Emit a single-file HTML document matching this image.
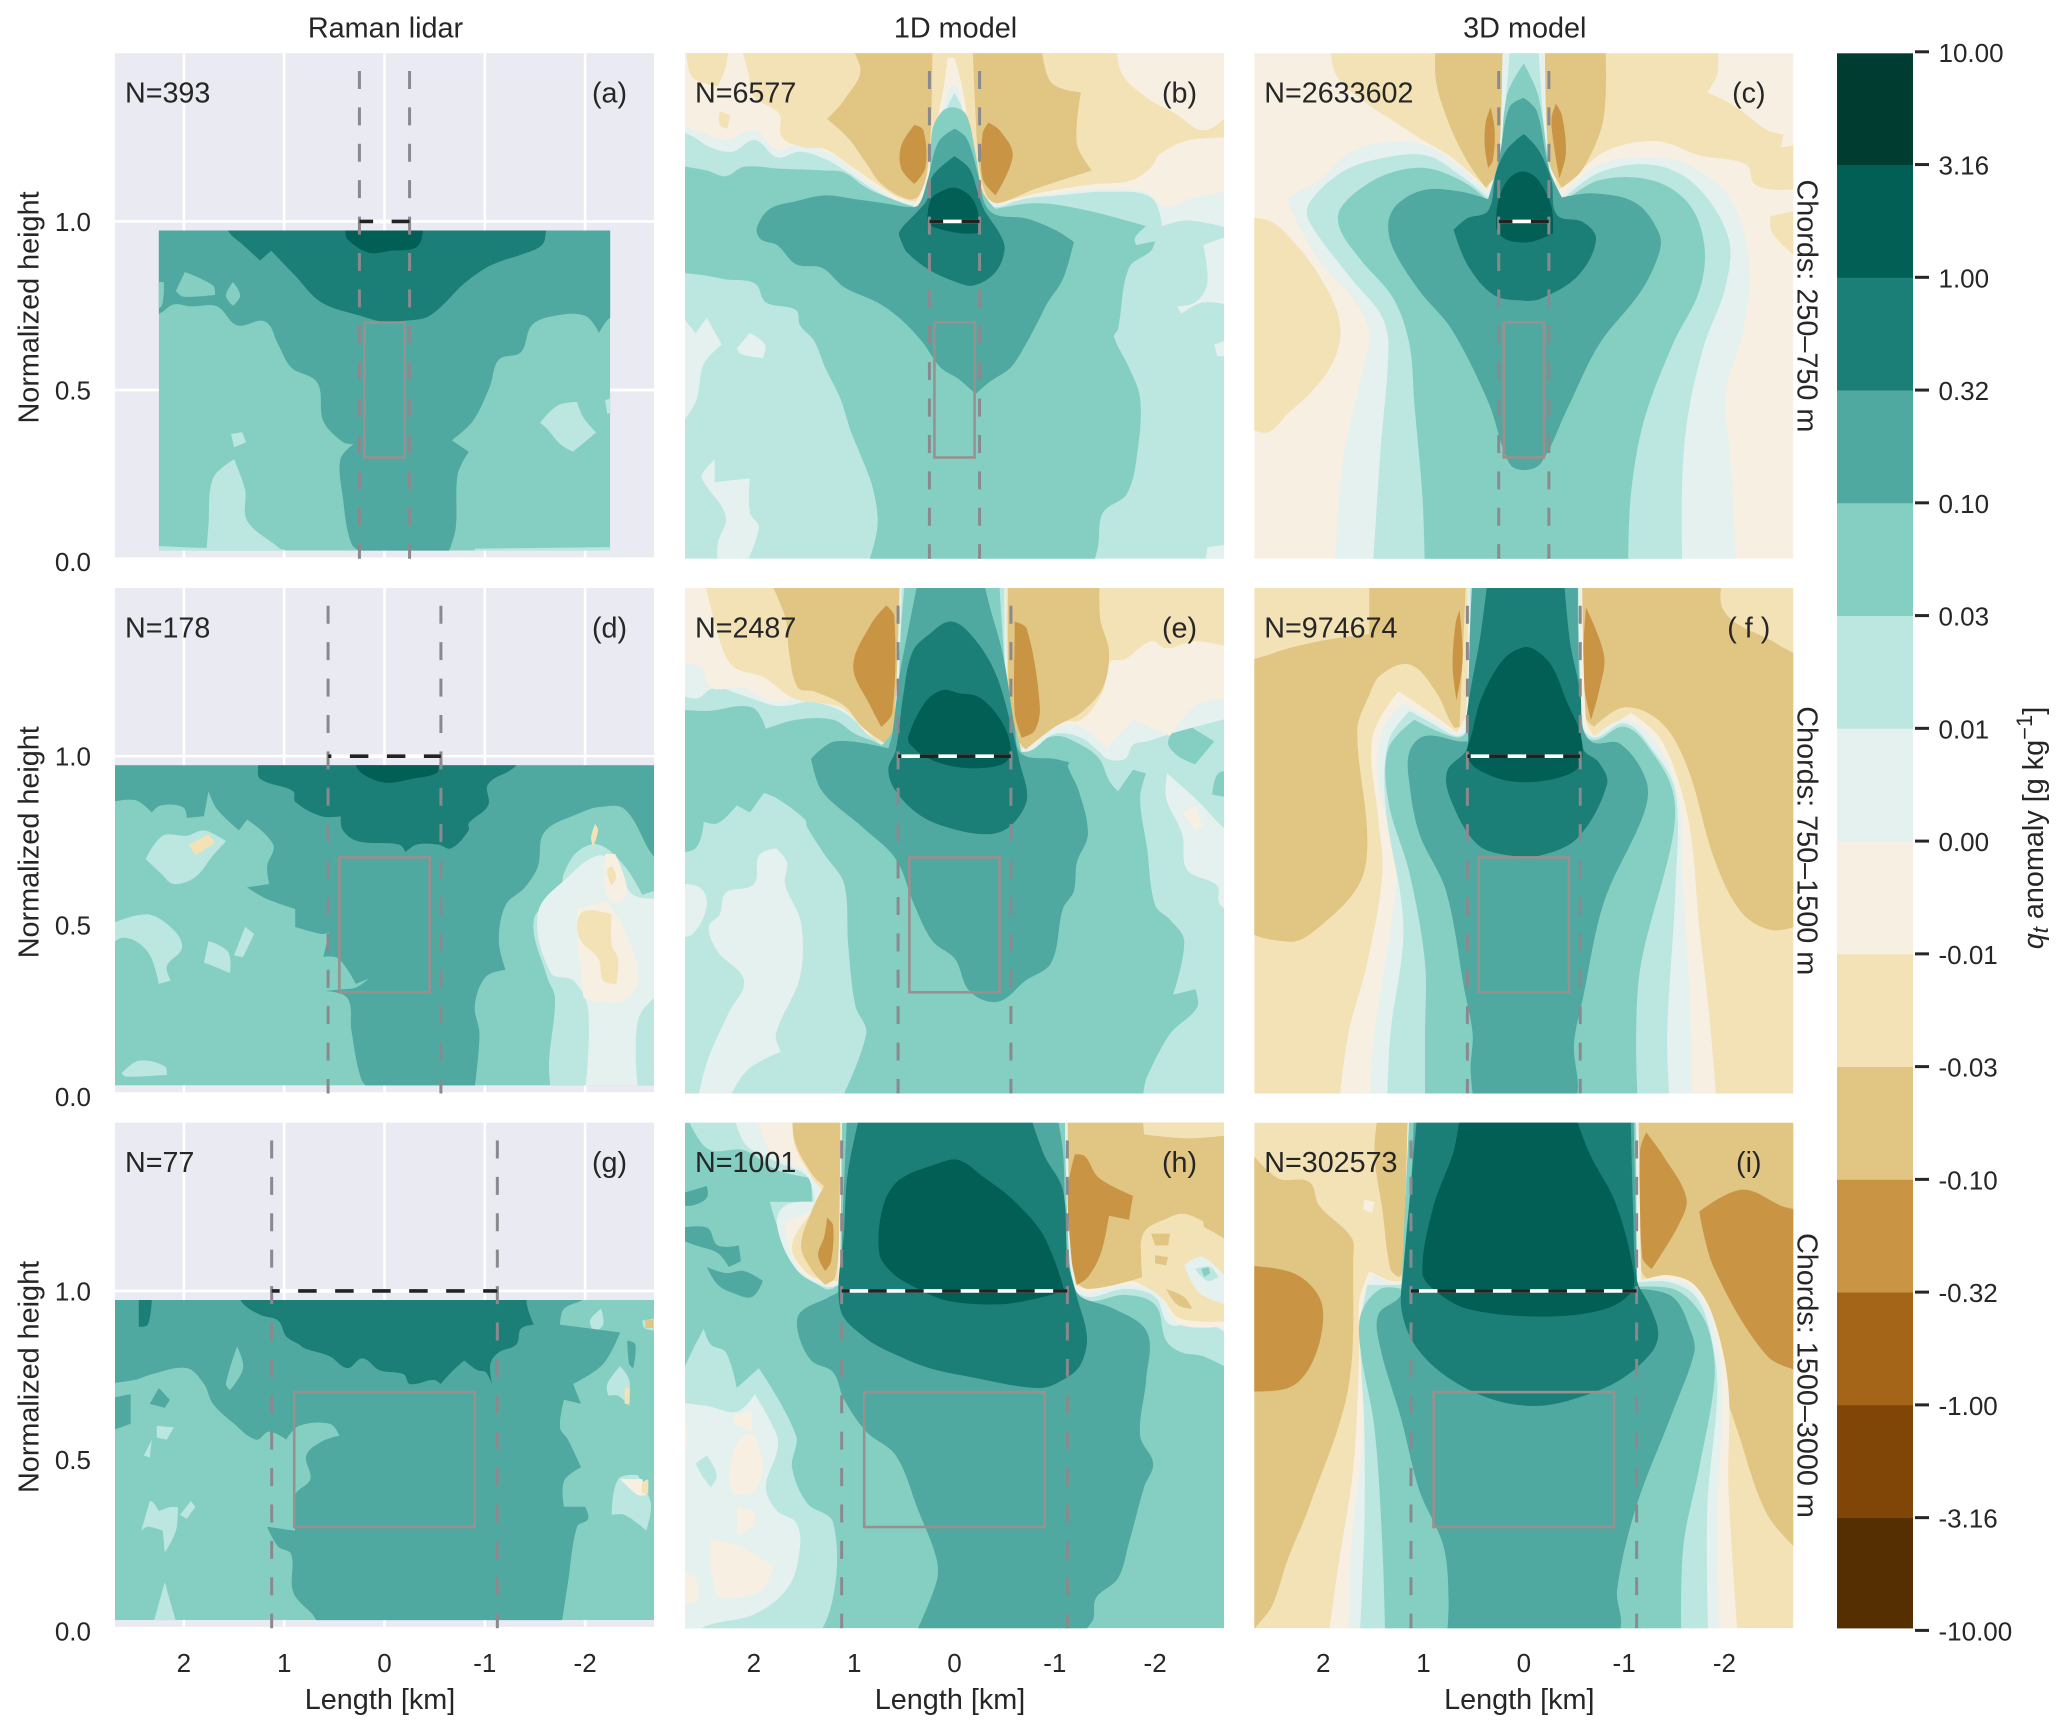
<!DOCTYPE html>
<html lang="en">
<head>
<meta charset="utf-8">
<title>Total water anomaly composites</title>
<style>
html,body{margin:0;padding:0;background:#fff;}
svg{display:block;}
text{font-family:"Liberation Sans",Arial,sans-serif;fill:#262626;}
</style>
</head>
<body>
<svg id="figure" xmlns="http://www.w3.org/2000/svg" width="2067" height="1732" viewBox="0 0 2067 1732"></svg>
<script>
// ---- colour scale (index 0 = darkest brown, 13 = darkest teal) ----
const levelColors = ['#552e02','#7f4607','#a46518','#c99444','#e0c583','#f2e2b5','#f6efe2','#e5f1ee','#bce6e0','#85cfc2','#4fa9a0','#1b7f77','#015f55','#003c30'];
const colorbarTicks = ['-10.00','-3.16','-1.00','-0.32','-0.10','-0.03','-0.01','0.00','0.01','0.03','0.10','0.32','1.00','3.16','10.00'];

// ---- axes ----
const xTickValues = [2,1,0,-1,-2];
const yTickValues = [0,0.5,1];
const columnTitles = ['Raman lidar','1D model','3D model'];
const rowTitles = ['Chords: 250–750 m','Chords: 750–1500 m','Chords: 1500–3000 m'];
const panelLetters = ['(a)','(b)','(c)','(d)','(e)','( f )','(g)','(h)','(i)'];
const sampleCounts = [393,6577,2633602,178,2487,974674,77,1001,302573];
const baseLevels = [9,8,6,9,8,5,9,9,5];

// ---- mean chord half-length [km], and box half-width [km], per row ----
const chordHalfLengths = [0.25,0.5625,1.125];
const boxHalfWidths = [0.2,0.45,0.9];
const boxHeights = [0.3,0.7];
const cloudBase = 1.0;
const chordLineTop = 1.446;

// ---- filled contour regions: [level, [km,height, km,height, ...]] ----
const regionsA = [
[8,[1.78,0,1.755,.1,1.71,.238,1.5,.295,1.39,.204,1.37,.113,1.06,.034,.93,0]],
[8,[2.4,.04,1.8,.032,1,.028,1,0,2.4,0]],
[8,[-.9,.03,-2.4,.035,-2.4,0,-.9,0]],
[8,[-1.55,.403,-1.725,.454,-1.92,.465,-1.98,.42,-2.11,.374,-1.88,.317,-1.75,.34,-1.62,.385]],
[8,[1.53,.37,1.42,.375,1.38,.345,1.5,.33]],
[8,[-2.2,.47,-2.4,.49,-2.4,.44,-2.22,.43]],
[10,[2.4,.726,2.25,.726,2.10,.754,1.93,.748,1.67,.748,1.47,.692,1.19,.703,1.06,.635,.93,.567,.67,.522,.61,.408,.415,.346,.31,.34,.44,.295,.415,.181,.33,.045,.2,.02,-.64,.02,-.71,.09,-.73,.25,-.84,.317,-.67,.351,-.88,.408,-1.05,.51,-1.14,.59,-1.36,.612,-1.47,.692,-1.7,.72,-2,.72,-2.14,.669,-2.25,.714,-2.4,.714,-2.4,1.02,2.4,1.02]],
[9,[1.99,.85,1.71,.81,1.69,.782,2.01,.777,2.08,.794]],
[9,[1.51,.82,1.44,.78,1.51,.75,1.58,.78]],
[9,[2.3,.82,2.2,.82,2.22,.75,2.3,.74]],
[11,[1.56,1.02,1.56,.973,1.41,.93,1.24,.884,1.13,.913,.89,.839,.63,.76,.24,.72,.026,.703,-.19,.705,-.45,.72,-.795,.816,-1.01,.862,-1.18,.884,-1.36,.901,-1.57,.93,-1.61,.973,-1.61,1.02]],
[12,[.39,1.02,.39,.973,.37,.947,.155,.907,-.06,.913,-.32,.924,-.385,.973,-.385,1.02]]
];
const regionsB = [
[9,[2.8,1.168,2.47,1.151,2.28,1.134,2.1,1.162,1.73,1.156,1.29,1.151,1.1,1.145,.88,1.1,.62,1.066,.4,1.043,0,1,-.41,1.037,-.85,1.054,-1.33,1.032,-1.91,.986,-1.8,.952,-1.81,.93,-2,.941,-1.96,.913,-1.74,.862,-1.63,.68,-1.59,.658,-1.74,.567,-1.85,.476,-1.83,.329,-1.72,.193,-1.48,.136,-1.43,.034,-1.35,-.05,.9,-.05,.77,.091,.81,.204,.95,.317,1.03,.374,1.14,.476,1.29,.567,1.4,.646,1.54,.692,1.58,.737,1.88,.76,1.99,.816,2.28,.828,2.47,.839,2.8,.85]],
[7,[2.8,.748,2.58,.669,2.47,.714,2.32,.635,2.5,.578,2.58,.465,2.8,.37]],
[7,[2.17,.624,2.04,.669,1.89,.635,1.91,.595,2.13,.607]],
[7,[2.52,.249,2.39,.295,2.39,.227,2.04,.238,2.04,.136,1.95,.091,2.17,-.05,2.36,-.05,2.36,.045,2.28,.125,2.5,.227]],
[7,[-2.8,.964,-2.48,.93,-2.52,.816,-2.4,.76,-2.22,.748,-2.26,.726,-2.48,.76,-2.8,.748]],
[7,[-2.59,.635,-2.8,.658,-2.8,.6,-2.62,.6]],
[7,[-2.8,.045,-2.52,.034,-2.48,-.05,-2.8,-.05]],
[7,[2.8,1.293,2.58,1.247,2.43,1.219,2.21,1.207,1.99,1.241,1.77,1.19,1.54,1.207,1.29,1.185,1.06,1.145,.77,1.088,.51,1.054,.4,1.049,0,1.09,-.39,1.043,-.67,1.066,-1.04,1.077,-1.52,1.088,-1.96,1.071,-2.07,.986,-2.33,1.003,-2.8,.975,-2.8,1.6,2.8,1.6]],
[6,[2.8,1.315,2.47,1.258,2.28,1.241,1.99,1.27,1.77,1.213,1.54,1.23,1.29,1.207,1.06,1.162,.77,1.1,.51,1.06,0,1.1,-.41,1.054,-.85,1.077,-1.37,1.094,-1.89,1.088,-2.11,1.043,-2.33,1.066,-2.8,1.122,-2.8,1.6,2.8,1.6]],
[5,[2.21,1.6,2.06,1.446,2,1.37,1.75,1.32,1.72,1.25,1.5,1.22,1.29,1.215,1.06,1.17,.77,1.11,.55,1.07,.35,1.06,0,1.1,-.4,1.06,-.85,1.085,-1.37,1.11,-1.75,1.12,-1.96,1.16,-2.05,1.2,-2.33,1.24,-2.8,1.25,-2.8,1.34,-2.5,1.27,-2.2,1.32,-1.9,1.37,-1.65,1.45,-1.63,1.6]],
[5,[2.7,1.6,2.65,1.45,2.58,1.42,2.36,1.4,2.28,1.46,2.21,1.6]],
[5,[2.34,1.327,2.24,1.315,2.26,1.275,2.34,1.286]],
[4,[1.25,1.6,.94,1.457,1.1,1.36,1.27,1.304,1.06,1.247,.88,1.173,.73,1.111,.47,1.066,.35,1.077,.27,1.156,.23,1.315,.22,1.6]],
[4,[-.17,1.6,-.21,1.315,-.245,1.168,-.32,1.077,-.43,1.054,-.78,1.094,-1.37,1.151,-1.22,1.23,-1.26,1.383,-.95,1.417,-.85,1.6]],
[3,[.4,1.286,.31,1.27,.29,1.16,.4,1.111,.53,1.156,.53,1.225]],
[3,[-.34,1.293,-.45,1.27,-.58,1.196,-.41,1.077,-.28,1.128,-.28,1.26]],
[6,[.07,1.485,0,1.485,-.08,1.395,-.15,1.258,-.21,1.122,-.37,1.043,0,1,.42,1.04,.29,1.12,.2,1.26,.11,1.395]],
[7,[.03,1.4,-.03,1.4,-.11,1.3,-.19,1.17,-.25,1.08,-.37,1.03,0,1,.39,1.03,.27,1.1,.18,1.26,.08,1.37]],
[8,[0,1.38,-.07,1.34,-.15,1.22,-.22,1.1,-.34,1.02,0,1,.34,1.02,.25,1.1,.16,1.24,.07,1.34]],
[9,[.28,1.06,.22,1.27,.12,1.327,0,1.338,-.12,1.315,-.21,1.2,-.28,1.088,-.41,1.037,0,.9,.42,1.04]],
[10,[1.97,.981,1.84,1.037,1.58,1.06,1.29,1.077,.99,1.066,.7,1.054,.47,1.043,.36,1.049,.27,1.122,.16,1.236,0,1.275,-.12,1.247,-.23,1.145,-.3,1.054,-.41,1.02,-.71,1.009,-1,.975,-1.19,.939,-1.08,.828,-.93,.76,-.85,.714,-.71,.635,-.56,.567,-.34,.522,-.21,.488,-.04,.533,.14,.567,.33,.646,.55,.714,.77,.76,1.1,.805,1.32,.862,1.58,.873,1.77,.93,1.93,.947]],
[11,[.55,.969,.4,1.02,.27,1.066,.22,1.134,0,1.193,-.15,1.156,-.23,1.088,-.3,1.032,-.45,.964,-.5,.918,-.41,.85,-.19,.81,0,.822,.25,.856,.47,.907,.53,.941]],
[12,[.27,1.009,.235,1.066,.14,1.088,0,1.1,-.15,1.077,-.23,1.032,-.245,.966,-.08,.964,.18,.98,.25,.992]]
];
const regionsC = [
[5,[1.93,1.6,1.88,1.44,1.56,1.349,1.3,1.298,1.04,1.247,.72,1.19,.355,1.094,.25,1.6]],
[5,[-.83,1.6,-1.93,1.6,-1.93,1.44,-1.83,1.383,-2.09,1.344,-2.43,1.27,-2.59,1.258,-2.56,1.219,-2.8,1.23,-2.8,1.1,-2.51,1.094,-2.3,1.111,-2.22,1.168,-1.75,1.196,-1.33,1.238,-.85,1.213,-.54,1.145,-.33,1.088,-.22,1.6]],
[5,[2.8,1.015,2.51,.998,2.3,.941,2.09,.862,1.88,.748,1.83,.658,1.93,.567,2.14,.488,2.35,.431,2.56,.374,2.8,.397]],
[5,[-2.46,1.015,-2.8,1.037,-2.8,.873,-2.48,.964]],
[4,[.855,1.6,.88,1.429,.75,1.293,.565,1.179,.38,1.1,.25,1.156,.21,1.6]],
[4,[-.21,1.6,-.25,1.179,-.38,1.1,-.59,1.156,-.8,1.315,-.8,1.6]],
[3,[.33,1.338,.29,1.27,.31,1.179,.355,1.159,.39,1.225,.38,1.293]],
[3,[-.32,1.349,-.38,1.315,-.42,1.202,-.355,1.128,-.3,1.225,-.276,1.304]],
[7,[2.33,1.071,2.04,1.122,1.72,1.207,1.25,1.238,.93,1.219,.62,1.156,.355,1.088,.25,1.179,.21,1.6,-.2,1.6,-.25,1.179,-.38,1.077,-.75,1.168,-1.275,1.19,-1.64,1.168,-2.06,1.066,-2.25,.862,-2.17,.658,-2.01,.488,-2.06,.295,-2.12,-.05,1.89,-.05,1.8,.295,1.59,.578,1.54,.669,1.7,.771,2.04,.884,2.33,1.043]],
[8,[2.14,1.054,1.82,1.145,1.45,1.185,.98,1.196,.62,1.134,.355,1.071,.25,1.145,.12,1.6,-.13,1.6,-.25,1.145,-.38,1.063,-.75,1.145,-1.275,1.168,-1.7,1.111,-2.04,.952,-2.01,.805,-1.8,.635,-1.64,.431,-1.58,.238,-1.58,-.05,1.51,-.05,1.43,.317,1.35,.635,1.43,.726,1.72,.83,2.14,1]],
[9,[1.83,1.037,1.56,1.111,1.25,1.151,.93,1.156,.565,1.111,.355,1.06,.25,1.122,.17,1.372,0,1.468,-.145,1.372,-.276,1.122,-.38,1.054,-.75,1.122,-1.275,1.122,-1.64,1.054,-1.8,.93,-1.75,.794,-1.485,.635,-1.196,.408,-1.065,.181,-1.04,-.05,.985,-.05,1.01,.181,1.09,.453,1.14,.635,1.3,.771,1.62,.884,1.83,.975]],
[10,[1.35,.998,1.25,1.054,.985,1.094,.62,1.088,.355,1.066,.25,1.179,.145,1.338,0,1.366,-.13,1.327,-.25,1.156,-.38,1.071,-.7,1.083,-1.12,1.054,-1.35,.964,-1.35,.907,-1.17,.794,-.75,.635,-.43,.442,-.17,.283,0,.263,.145,.283,.355,.465,.72,.68,1.04,.794,1.3,.918]],
[11,[.7,.975,.565,1.009,.355,1.032,.276,1.145,.17,1.213,0,1.259,-.145,1.213,-.276,1.122,-.33,1.02,-.59,.998,-.72,.947,-.54,.839,-.17,.771,0,.765,.3,.782,.565,.873]],
[12,[.276,.986,.25,1.066,.145,1.128,0,1.148,-.145,1.122,-.276,1.043,-.29,.964,-.066,.939,.145,.943,.25,.964]]
];
const regionsD = [
[8,[2.38,.695,2.21,.764,1.97,.764,1.8,.78,1.58,.748,1.71,.706,1.885,.642,2.1,.621,2.23,.653]],
[5,[1.95,.738,1.755,.769,1.69,.743,1.885,.706]],
[8,[2.8,.494,2.37,.531,2.1,.484,2.02,.431,2.17,.378,2.13,.335,2.25,.325,2.36,.42,2.6,.462,2.8,.42]],
[8,[1.8,.388,1.755,.452,1.56,.42,1.54,.357,1.71,.378]],
[8,[1.5,.41,1.39,.494,1.3,.473,1.41,.404]],
[8,[2.62,.06,2.45,.097,2.19,.081,2.17,.055,2.58,.05]],
[8,[-1.66,0,-1.64,.092,-1.7,.283,-1.62,.346,-1.49,.515,-1.75,.6,-1.79,.653,-1.92,.716,-2.135,.738,-2.395,.674,-2.57,.589,-2.8,.611,-2.8,0]],
[7,[-2,0,-2.03,.251,-1.88,.335,-1.66,.357,-1.53,.536,-1.83,.642,-2.135,.706,-2.31,.674,-2.48,.589,-2.8,.579,-2.8,.335,-2.53,.22,-2.53,0]],
[6,[-1.985,.283,-1.92,.473,-1.92,.547,-2.22,.568,-2.395,.484,-2.53,.335,-2.35,.272]],
[5,[-1.92,.505,-2,.542,-2.265,.531,-2.265,.441,-2.33,.399,-2.31,.325,-2.18,.335,-2.135,.399,-1.96,.452]],
[6,[-2.2,.71,-2.3,.71,-2.42,.6,-2.3,.56,-2.2,.6]],
[5,[-2.22,.663,-2.27,.674,-2.31,.642,-2.26,.616]],
[5,[-2.1,.8,-2.06,.76,-2.08,.73,-2.13,.78]],
[10,[2.8,.859,2.49,.87,2.32,.833,2.23,.854,2.01,.849,1.97,.817,1.8,.822,1.755,.896,1.67,.843,1.45,.78,1.37,.812,1.11,.738,1.17,.674,1.15,.621,1.37,.611,1.19,.579,.89,.547,.89,.494,.63,.473,.55,.478,.61,.405,.46,.4,.285,.325,.156,.341,.285,.314,.415,.309,.59,.304,.37,.283,.33,.187,.24,.05,.156,.02,-.9,.02,-.947,.177,-.9,.261,-1.01,.346,-1.206,.367,-1.14,.452,-1.206,.558,-1.4,.611,-1.53,.674,-1.595,.775,-1.96,.833,-2.135,.849,-2.395,.843,-2.69,.7,-2.8,.7,-2.8,1.02,2.8,1.02]],
[11,[1.26,1.02,1.26,.973,1.24,.933,.91,.896,.89,.865,.63,.822,.437,.822,.415,.78,.264,.748,-.147,.738,-.21,.716,-.32,.738,-.536,.738,-.666,.727,-.839,.78,-.839,.801,-1.033,.854,-1.033,.917,-1.314,.973,-1.314,1.02]],
[12,[.285,1.02,.285,.973,.2,.944,-.017,.921,-.277,.933,-.514,.949,-.545,.973,-.545,1.02]]
];
const regionsE = [
[9,[2.8,1.14,2.47,1.134,2.02,1.145,1.88,1.081,1.58,1.108,1.21,1.108,.99,1.066,.77,1.039,0,.9,-.67,1.013,-1,1.06,-1.26,1.034,-1.445,.992,-1.54,.928,-1.63,.896,-1.78,.96,-1.91,.949,-1.85,.875,-1.92,.727,-2,.558,-2.15,.515,-2.29,.452,-2.18,.293,-2.4,.309,-2.42,.256,-2.15,.177,-1.92,.05,-1.78,-.05,1.18,-.05,.88,.177,.99,.261,1.06,.441,1.1,.621,1.29,.706,1.47,.79,1.49,.812,1.77,.875,1.9,.891,2.04,.833,2.17,.854,2.36,.801,2.5,.806,2.58,.727,2.8,.716]],
[9,[-2.13,1.044,-2.27,1.103,-2.59,1.044,-2.4,.976,-2.22,1.002]],
[9,[-2.57,.886,-2.63,.949,-2.8,.955,-2.8,.875]],
[7,[-2.12,.949,-2.4,.875,-2.6,.812,-2.8,.738,-2.8,.531,-2.64,.563,-2.62,.616,-2.32,.663,-2.27,.769,-2.11,.875]],
[6,[-2.27,.833,-2.4,.854,-2.48,.79,-2.4,.78]],
[7,[2.45,.494,2.34,.531,2.28,.595,2,.621,1.95,.706,1.78,.727,1.67,.685,1.69,.621,1.53,.505,1.54,.346,1.78,.177,1.73,.124,2.06,.071,2.36,-.05,2.58,-.05,2.47,.092,2.25,.24,2.1,.335,2.36,.42]],
[7,[2.8,.621,2.54,.611,2.47,.558,2.61,.473,2.8,.462]],
[7,[2.8,1.193,2.58,1.171,2.39,1.203,2.13,1.182,1.8,1.15,1.66,1.15,1.43,1.161,1.1,1.129,.77,1.044,.7,1.034,0,1.05,-.71,1.013,-1,1.066,-1.26,1.055,-1.445,1.013,-1.52,.992,-1.7,.992,-1.78,1.034,-1.92,1.044,-2.15,1.066,-2.4,1.087,-2.8,1.118,-2.8,1.6,2.8,1.6]],
[6,[2.8,1.277,2.54,1.267,2.43,1.203,2.1,1.203,1.8,1.16,1.43,1.177,1.1,1.14,.77,1.05,0,1.07,-.71,1.023,-1,1.087,-1.26,1.087,-1.52,1.023,-1.78,1.108,-2.15,1.06,-2.4,1.15,-2.8,1.2,-2.8,1.6,2.8,1.6]],
[5,[2.55,1.6,2.36,1.362,2.21,1.267,1.91,1.235,1.6,1.171,1.14,1.145,.92,1.087,.7,1.039,0,1.07,-.67,1.023,-1,1.103,-1.26,1.108,-1.48,1.193,-1.54,1.277,-1.7,1.288,-1.96,1.341,-2.11,1.32,-2.4,1.341,-2.8,1.32,-2.8,1.6]],
[4,[1.97,1.6,1.69,1.415,1.65,1.309,1.56,1.203,1.4,1.192,1.1,1.15,.92,1.087,.7,1.039,.6,1.087,.54,1.446,.54,1.6]],
[4,[-.54,1.6,-.56,1.087,-.71,1.02,-1,1.087,-1.26,1.129,-1.48,1.204,-1.54,1.31,-1.45,1.414,-1.46,1.6]],
[3,[.68,1.447,.6,1.415,.62,1.129,.73,1.087,.84,1.15,1.01,1.267,.83,1.393]],
[3,[-.6,1.399,-.72,1.378,-.85,1.15,-.8,1.076,-.67,1.055,-.6,1.129,-.6,1.373]],
[7,[.54,1.6,-.52,1.6,-.54,1.129,-.65,1.013,0,.9,.66,1.04,.6,1.087]],
[8,[.52,1.6,-.5,1.6,-.52,1.1,-.62,1,0,.9,.62,1.02,.57,1.08]],
[9,[.6,1.087,.53,1.394,.47,1.6,-.43,1.6,-.54,1.129,-.6,1.087,-.67,1.01,0,.9,.77,1.02]],
[10,[.31,1.6,.47,1.362,.55,1.235,.62,1.066,.66,1.023,1.19,1.044,1.43,.992,1.32,.896,.92,.79,.585,.695,.4,.558,.22,.452,-.005,.399,-.15,.304,-.43,.272,-.71,.335,-.965,.388,-1.08,.547,-1.19,.6,-1.22,.685,-1.33,.769,-1.24,.896,-1.13,.97,-1.15,.981,-1,.992,-.67,1.007,-.6,1.087,-.485,1.298,-.34,1.457,-.23,1.6]],
[11,[.03,1.399,.25,1.362,.42,1.309,.51,1.182,.585,1.018,.66,.96,.585,.896,.33,.822,-.04,.78,-.34,.769,-.52,.785,-.67,.833,-.725,.886,-.65,.981,-.56,1.097,-.41,1.245,-.19,1.351]],
[12,[.12,1.196,.29,1.161,.46,1.06,.44,1.034,.25,.992,-.04,.967,-.37,.968,-.54,.992,-.54,1.055,-.41,1.129,-.23,1.177,-.04,1.187]]
];
const regionsF = [
[4,[2.8,1.256,2.51,1.304,2.04,1.341,1.54,1.362,1.54,1.6,.565,1.6,.64,1.087,.7,1.087,.88,1.193,1.14,1.272,1.43,1.24,1.54,1.182,1.66,1.076,1.56,.759,1.64,.621,2.04,.494,2.33,.45,2.8,.51]],
[4,[-.58,1.6,-2.06,1.6,-1.985,1.436,-2.54,1.33,-2.8,1.267,-2.8,.505,-2.48,.484,-2.17,.537,-1.9,.695,-1.64,.96,-1.38,1.097,-1.01,1.145,-.7,1.087,-.59,1.129]],
[3,[.64,1.433,.61,1.288,.67,1.166,.71,1.267,.68,1.394]],
[3,[-.62,1.441,-.8,1.298,-.75,1.193,-.67,1.108,-.59,1.235]],
[6,[1.85,-.05,1.75,.177,1.56,.388,1.41,.653,1.45,.812,1.51,1.055,1.25,1.193,.93,1.129,.67,1.071,.575,1.129,.565,1.6,-.58,1.6,-.62,1.108,-.7,1.06,-1.07,1.129,-1.38,1.044,-1.64,.812,-1.75,.494,-1.85,.23,-1.93,-.05]],
[7,[1.54,-.05,1.49,.177,1.3,.547,1.27,.706,1.45,.917,1.41,1.076,1.2,1.156,.91,1.108,.66,1.066,.565,1.097,.555,1.6,-.565,1.6,-.59,1.097,-.7,1.056,-1.01,1.108,-1.33,1.034,-1.54,.875,-1.59,.6,-1.67,.177,-1.67,-.05]],
[8,[1.365,-.05,1.33,.177,1.2,.494,1.38,.854,1.35,1.044,1.14,1.134,.91,1.097,.66,1.06,.555,1.087,.545,1.6,-.54,1.6,-.59,1.087,-.71,1.055,-1.01,1.097,-1.275,1.023,-1.51,.896,-1.51,.6,-1.43,.177,-1.46,-.05]],
[9,[.985,-.05,.985,.177,.985,.388,1.14,.653,1.35,.865,1.35,1.023,1.09,1.108,.66,1.055,.555,1.087,.51,1.6,-.54,1.6,-.59,1.076,-.71,1.047,-1.01,1.087,-1.275,1.013,-1.485,.896,-1.485,.759,-1.17,.388,-1.12,.177,-1.14,-.05]],
[10,[.49,-.05,.53,.07,.51,.177,.59,.304,.775,.6,1.04,.769,1.14,.917,1.14,1.013,.985,1.06,.64,1.044,.555,1.044,.54,1.341,.5,1.6,-.54,1.6,-.565,1.129,-.67,1.044,-.96,1.037,-1.22,.928,-1.2,.833,-.8,.568,-.59,.283,-.5,.145,-.54,.018,-.49,-.05]],
[11,[.33,1.6,.43,1.362,.565,1.129,.565,1.023,.765,.955,.72,.865,.46,.738,.145,.706,-.17,.706,-.54,.759,-.83,.917,-.75,.981,-.59,1.023,-.565,1.182,-.46,1.341,-.38,1.6]],
[12,[0,1.323,.2,1.288,.41,1.182,.51,1.076,.555,.992,.3,.939,-.01,.923,-.38,.939,-.565,.976,-.565,1.066,-.43,1.161,-.28,1.267,-.12,1.314]]
];
const regionsG = [
[8,[2.425,.289,2.34,.377,2.3,.371,2.25,.347,2.14,.359,2.06,.359,2.08,.289,2.19,.224,2.21,.289,2.36,.301]],
[8,[2.04,.336,1.93,.377,1.885,.36,1.97,.324]],
[8,[2.4,.512,2.32,.559,2.34,.506]],
[8,[2.27,.6,2.1,.595,2.17,.559,2.27,.565]],
[8,[2.3,.02,2.19,.136,2.08,.02]],
[8,[-2.265,.336,-2.33,.442,-2.525,.454,-2.655,.371,-2.61,.289,-2.395,.336]],
[6,[-2.35,.442,-2.57,.442,-2.61,.395,-2.525,.395]],
[5,[-2.57,.43,-2.63,.442,-2.63,.4,-2.57,.4]],
[8,[-2.22,.724,-2.35,.777,-2.44,.736,-2.44,.659,-2.33,.689,-2.23,.689]],
[5,[-2.395,.712,-2.44,.712,-2.44,.665,-2.395,.665]],
[8,[-2.05,.912,-2.16,.947,-2.18,.9,-2.09,.877]],
[8,[-2.57,.912,-2.8,.924,-2.8,.882,-2.6,.888]],
[4,[-2.6,.915,-2.68,.915,-2.68,.89,-2.6,.89]],
[10,[2.8,.724,2.49,.736,2.32,.753,1.97,.771,1.8,.724,1.71,.665,1.5,.606,1.28,.559,1.15,.583,.98,.559,.85,.6,.545,.606,.45,.571,.63,.553,.78,.512,.74,.442,.89,.395,.89,.289,1.17,.301,1.06,.242,.93,.219,.91,.107,.72,.042,.65,.02,-1.77,.02,-1.83,.136,-1.92,.301,-2.03,.324,-2,.36,-1.79,.36,-1.79,.436,-1.96,.477,-1.83,.559,-1.75,.595,-1.79,.677,-1.96,.665,-1.88,.724,-2.18,.783,-2.35,.877,-1.75,.9,-1.79,.947,-2,.98,-2,1.02,2.8,1.02]],
[9,[1.47,.835,1.41,.771,1.54,.706,1.58,.724]],
[10,[2.8,.677,2.53,.694,2.53,.606,2.8,.577]],
[10,[2.25,.712,2.14,.677,2.19,.653,2.34,.665]],
[10,[-2.42,.853,-2.5,.841,-2.48,.771,-2.44,.783]],
[9,[1.08,.42,.98,.44,.97,.39,1.1,.37]],
[11,[1.43,1.02,1.43,.97,1.24,.929,1.06,.912,.98,.865,.85,.841,.8,.83,.545,.806,.37,.771,.22,.8,.05,.765,-.19,.753,-.255,.724,-.49,.736,-.56,.724,-.666,.759,-.795,.794,-.925,.765,-1.01,.759,-1.077,.718,-1.055,.783,-1.14,.818,-1.314,.841,-1.36,.888,-1.49,.9,-1.42,.959,-1.42,1.02]],
[11,[2.45,.98,2.32,.98,2.36,.9,2.45,.894]]
];
const regionsH = [
[8,[2.8,.665,2.5,.888,2.43,.841,2.28,.818,2.17,.712,1.95,.771,1.58,.571,1.62,.477,1.47,.371,1.21,.313,1.23,.066,1.51,-.05,2.8,-.05]],
[7,[2.8,.671,2.47,.659,2.17,.642,1.99,.694,1.77,.571,1.77,.524,1.88,.418,1.77,.348,1.58,.313,1.54,.242,1.65,.125,1.99,.042,2.47,.007,2.8,-.05]],
[6,[2.2,.63,2.02,.647,2.02,.583,2.19,.607]],
[6,[2.15,.559,1.99,.577,1.91,.477,2,.407,2.19,.395,2.25,.442]],
[6,[2.43,.266,2.13,.242,1.8,.183,1.95,.107,2.36,.089,2.43,.172]],
[6,[2.17,.36,1.99,.348,2.02,.301,2.17,.277]],
[6,[2.8,.172,2.58,.148,2.56,.078,2.8,.066]],
[6,[2.8,.62,2.67,.594,2.7,.5,2.8,.5]],
[8,[2.58,.489,2.47,.512,2.37,.454,2.43,.418,2.52,.454]],
[8,[2.8,1.6,2.58,1.464,2.43,1.417,2.1,1.417,1.77,1.358,1.43,1.335,1.42,1.264,1.65,1.264,1.84,1.264,1.77,1.194,1.62,1.088,1.29,1.006,1.18,1.018,1.12,1.6]],
[7,[2.25,1.6,2.1,1.441,1.77,1.382,1.47,1.34,1.4,1.264,1.69,1.253,1.77,1.194,1.58,1.065,1.29,1.012,1.14,1.018,1.12,1.6]],
[6,[2.03,1.6,1.84,1.417,1.38,1.335,1.38,1.253,1.69,1.206,1.58,1.076,1.29,1.018,1.14,1.03,1.12,1.6]],
[5,[1.6,1.6,1.6,1.44,1.42,1.335,1.32,1.288,1.62,1.135,1.47,1.053,1.29,1.03,1.16,1.03,1.13,1.6]],
[4,[1.6,1.6,1.6,1.452,1.42,1.346,1.3,1.311,1.42,1.24,1.53,1.135,1.43,1.065,1.29,1.018,1.19,1.041,1.15,1.182,1.14,1.6]],
[3,[1.27,1.217,1.21,1.194,1.23,1.088,1.29,1.059,1.36,1.106,1.3,1.159]],
[10,[2.8,1.282,2.47,1.311,2.47,1.276,2.62,1.253,2.8,1.258]],
[10,[2.8,1.182,2.47,1.188,2.36,1.135,2.15,1.135,2.13,1.088,2.25,1.071,2.36,1.112,2.58,1.135,2.8,1.159]],
[10,[2.47,1.071,2.28,1.053,2.1,1.059,1.91,1.03,2.02,.982,2.21,.994,2.36,1.018]],
[8,[-1.1,1.6,-1.13,1.182,-1.19,1.018,-1.33,.971,-1.7,.988,-2,.959,-2.11,.853,-2.26,.818,-2.48,.806,-2.8,.759,-2.8,1.6]],
[7,[-1.1,1.6,-1.17,1.018,-1.33,.982,-1.7,1.006,-2,.982,-2.15,.9,-2.48,.912,-2.8,.853,-2.8,1.6]],
[6,[-1.1,1.6,-1.2,1.006,-1.33,.994,-1.7,1.018,-2.02,.994,-2.25,.9,-2.8,.9,-2.8,1.6]],
[5,[-1.1,1.6,-1.2,1.018,-1.37,1.006,-1.74,1.03,-2.06,.982,-2.25,.918,-2.8,.912,-2.8,1.6]],
[4,[-1.13,1.6,-1.15,1.182,-1.2,1.041,-1.33,1.006,-1.87,1.041,-1.87,1.159,-1.96,1.194,-2.26,1.217,-2.8,1.135,-2.8,1.6]],
[5,[-1.85,1.6,-1.89,1.464,-2.33,1.452,-2.8,1.464,-2.8,1.6]],
[5,[-1.87,1.159,-2,1.194,-2.26,1.229,-2.48,1.206,-2.48,1.112,-2.33,1.076,-2.18,1.041,-1.89,1.1]],
[4,[-1.96,1.17,-2.15,1.17,-2.13,1.135,-2,1.135]],
[4,[-2,1.106,-2.13,1.1,-2.11,1.076,-2,1.082]],
[4,[-2.11,1.006,-2.29,.982,-2.37,.947,-2.22,.959]],
[7,[-2.29,1.076,-2.48,1.1,-2.8,1.006,-2.72,.959,-2.44,.994]],
[8,[-2.4,1.065,-2.55,1.071,-2.63,1.041,-2.52,1.03]],
[9,[-2.46,1.065,-2.53,1.071,-2.55,1.053,-2.49,1.041]],
[3,[-1.2,1.405,-1.3,1.399,-1.44,1.335,-1.78,1.282,-1.74,1.211,-1.54,1.223,-1.46,1.112,-1.33,1.041,-1.22,1.018,-1.17,1.088,-1.13,1.3]],
[10,[1.06,1.6,1.12,1.182,1.14,1.006,1.25,.982,1.54,.935,1.56,.877,1.43,.794,1.21,.759,1.1,.677,.88,.583,.585,.512,.36,.348,.18,.207,.18,.136,.44,-.05,-1.08,-.05,-1.37,.019,-1.41,.089,-1.63,.148,-1.74,.254,-1.89,.418,-1.98,.489,-1.85,.571,-1.91,.736,-1.92,.877,-1.59,.947,-1.26,.982,-1.19,1.018,-1.11,1.147,-1.08,1.417,-.965,1.6]],
[11,[.88,1.6,1.06,1.358,1.1,1.182,1.14,.947,.88,.859,.55,.806,.25,.771,-.12,.747,-.85,.712,-1.11,.741,-1.26,.783,-1.32,.865,-1.22,.982,-1.13,1.088,-1.08,1.3,-.89,1.405,-.67,1.6]],
[12,[-.04,1.388,.18,1.376,.55,1.329,.71,1.253,.75,1.112,.62,1.053,.4,1.012,.07,.971,-.48,.961,-.965,.988,-1.09,1.006,-1,1.088,-.85,1.182,-.56,1.276,-.3,1.335]]
];
const regionsI = [
[4,[2.8,1.44,2.46,1.335,2.14,1.323,2.04,1.253,1.72,1.159,1.7,1.1,1.75,.712,2.14,.36,2.35,.207,2.51,.066,2.68,0,2.8,-.05]],
[4,[1.41,1.6,1.49,1.417,1.41,1.241,1.33,1.065,1.25,1.041,1.17,1.065,1.15,1.6]],
[4,[-1.14,1.6,-2.8,1.6,-2.8,.213,-2.43,.336,-2.12,.595,-1.8,.877,-1.54,1.041,-1.275,1.03,-1.17,1.065]],
[3,[2.8,1.076,2.3,1.053,2.04,.982,2.01,.888,2.14,.771,2.35,.712,2.8,.703]],
[3,[-1.22,1.47,-1.38,1.405,-1.62,1.276,-1.54,1.194,-1.275,1.065,-1.18,1.1,-1.16,1.417]],
[3,[-1.75,1.235,-2.17,1.3,-2.56,1.253,-2.8,1.217,-2.8,.759,-2.43,.806,-1.9,1.065]],
[6,[1.59,1.27,1.49,1.264,1.51,1.231,1.6,1.241]],
[6,[1.96,-.05,1.85,.183,1.7,.477,1.64,.83,1.64,.971,1.54,1.059,1.33,1.03,1.2,1.03,1.15,1.6,-1.14,1.6,-1.17,1.03,-1.43,1.047,-1.7,1.018,-1.9,.912,-2.04,.712,-2.04,.418,-2.14,-.05]],
[7,[1.75,-.05,1.72,.242,1.6,.595,1.62,.947,1.51,1.047,1.3,1.024,1.15,1.03,1.14,1.6,-1.13,1.6,-1.14,1.03,-1.43,1.035,-1.7,1.006,-1.89,.9,-1.98,.712,-1.93,.36,-1.95,-.05]],
[8,[1.64,-.05,1.59,.301,1.59,.595,1.63,.88,1.56,1.018,1.25,1.018,1.14,1.024,1.13,1.6,-1.12,1.6,-1.13,1.024,-1.43,1.027,-1.7,.988,-1.85,.888,-1.93,.712,-1.83,.36,-1.84,-.05]],
[9,[1.38,-.05,1.41,.242,1.49,.595,1.63,.83,1.62,.935,1.43,1.006,1.22,1.006,1.13,1.6,-1.11,1.6,-1.13,1.012,-1.485,1.006,-1.7,.959,-1.85,.877,-1.9,.736,-1.75,.477,-1.59,.242,-1.57,-.05]],
[10,[.775,-.05,.75,.078,.8,.242,1.04,.407,1.22,.618,1.43,.83,1.45,.93,1.22,.994,1.09,1.6,-1.09,1.6,-1.13,1.006,-1.485,.982,-1.67,.877,-1.7,.818,-1.485,.642,-1.12,.36,-.93,.113,-.97,.019,-.93,-.05]],
[11,[1.04,1.6,1.13,1.3,1.2,1.065,1.22,.947,1.09,.841,.775,.747,.3,.677,-.145,.659,-.54,.683,-.96,.736,-1.275,.818,-1.34,.877,-1.25,.959,-1.13,1.03,-1.09,1.241,-1.06,1.6]],
[12,[.46,1.6,.72,1.394,.91,1.241,1.01,1.053,.88,1,.565,.947,-.12,.924,-.75,.941,-1.065,.994,-1.09,1.065,-.91,1.264,-.64,1.417,-.43,1.6]]
];
const panelRegions = [regionsA,regionsB,regionsC,regionsD,regionsE,regionsF,regionsG,regionsH,regionsI];

// ---- layout ----
const svg = document.getElementById('figure');
const NS = 'http://www.w3.org/2000/svg';
const plotWidth = 539, plotHeight = 505.5;
const colLefts = [115,685,1254.3], rowTops = [53.2,588,1122.7];
const kmPx = 100.3, heightPx = 337.3;
const lidarExtents = [[2.25,-2.25],[2.72,-2.72],[2.72,-2.72]];
const dashOffsets = [4.8,15.2,10.5];

function xAxis(col, km){ return colLefts[col] + plotWidth/2 - km*kmPx; }
function yAxis(row, h){ return rowTops[row] + plotHeight - h*heightPx; }

function make(tag, attrs, parent){
  const el = document.createElementNS(NS, tag);
  for(const k in attrs){ el.setAttribute(k, attrs[k]); }
  parent.appendChild(el);
  return el;
}
function label(str, x, y, size, anchor, parent, rot){
  const attrs = {x:x, y:y, 'font-size':size, 'text-anchor':anchor};
  if(rot){ attrs.transform = 'rotate('+rot+' '+x+' '+y+')'; }
  const t = make('text', attrs, parent);
  t.textContent = str;
  return t;
}
// Smooth closed ring through the data points; sharp turns stay as corners.
function ringPath(flat, col, row){
  const p = [];
  for(let i=0;i<flat.length;i+=2){ p.push([xAxis(col,flat[i]), yAxis(row,flat[i+1])]); }
  const n = p.length, tang = [];
  for(let i=0;i<n;i++){
    const a=p[(i-1+n)%n], b=p[i], c=p[(i+1)%n];
    const ux=b[0]-a[0], uy=b[1]-a[1], vx=c[0]-b[0], vy=c[1]-b[1];
    const lu=Math.hypot(ux,uy)||1, lv=Math.hypot(vx,vy)||1;
    const cs=(ux*vx+uy*vy)/(lu*lv);
    if(cs<0.35){ tang.push([0,0]); continue; }
    const dx=c[0]-a[0], dy=c[1]-a[1], ld=Math.hypot(dx,dy)||1;
    tang.push([dx/ld,dy/ld]);
  }
  let d='M'+p[0][0].toFixed(1)+' '+p[0][1].toFixed(1);
  for(let i=0;i<n;i++){
    const j=(i+1)%n, a=p[i], b=p[j];
    const s=Math.hypot(b[0]-a[0],b[1]-a[1])/3;
    d+='C'+(a[0]+tang[i][0]*s).toFixed(1)+' '+(a[1]+tang[i][1]*s).toFixed(1)+' '+
        (b[0]-tang[j][0]*s).toFixed(1)+' '+(b[1]-tang[j][1]*s).toFixed(1)+' '+b[0].toFixed(1)+' '+b[1].toFixed(1);
  }
  return d+'Z';
}

const defs = make('defs', {}, svg);

// ---- panels ----
for(let row=0;row<3;row++){
  for(let col=0;col<3;col++){
    const idx = row*3+col;
    const letter = 'abcdefghi'[idx];
    const L = colLefts[col], T = rowTops[row];
    const g = make('g', {}, svg);
    
    

    const clip = make('clipPath', {id:'clip-'+letter}, defs);
    let dataX = L, dataW = plotWidth, dataY = T, dataH = plotHeight;
    if(col===0){
      const bg = make('rect', {x:L,y:T,width:plotWidth,height:plotHeight,fill:'#eaeaf2'}, g);
      
      
      xTickValues.forEach(function(v){
        const gl = make('line', {x1:xAxis(col,v),x2:xAxis(col,v),y1:T,y2:T+plotHeight,stroke:'#fff','stroke-width':2.6}, g);
        
        
      });
      yTickValues.forEach(function(v){
        const gl = make('line', {x1:L,x2:L+plotWidth,y1:yAxis(row,v),y2:yAxis(row,v),stroke:'#fff','stroke-width':2.6}, g);
        
        
      });
      dataX = Math.max(L, xAxis(col, lidarExtents[row][0]));
      dataW = Math.min(L+plotWidth, xAxis(col, lidarExtents[row][1])) - dataX;
      dataY = yAxis(row, 0.973);
      dataH = yAxis(row, 0.024) - dataY;
    }
    make('rect', {x:dataX,y:dataY,width:dataW,height:dataH}, clip);
    const field = make('g', {'clip-path':'url(#clip-'+letter+')'}, g);
    
    
    const base = make('rect', {x:dataX,y:dataY,width:dataW,height:dataH,fill:levelColors[baseLevels[idx]]}, field);
    
    
    panelRegions[idx].forEach(function(reg){
      const path = make('path', {d:ringPath(reg[1],col,row),fill:levelColors[reg[0]]}, field);
      
      
    });

    // reference box
    const bw = boxHalfWidths[row];
    const box = make('rect', {x:xAxis(col,bw),y:yAxis(row,boxHeights[1]),width:xAxis(col,-bw)-xAxis(col,bw),height:yAxis(row,boxHeights[0])-yAxis(row,boxHeights[1]),fill:'none',stroke:'#99918f','stroke-width':2.6}, g);
    
    

    // chord-edge dashed lines
    const w = chordHalfLengths[row];
    [w,-w].forEach(function(v){
      const ln = make('line', {x1:xAxis(col,v),x2:xAxis(col,v),y1:yAxis(row,chordLineTop),y2:yAxis(row,0),stroke:'#8a8a8e','stroke-width':3,'stroke-dasharray':'18 18.4'}, g);
      
      
    });
    // cloud-base line
    const wl = make('line', {x1:xAxis(col,w),x2:xAxis(col,-w),y1:yAxis(row,cloudBase),y2:yAxis(row,cloudBase),stroke:'#fff','stroke-width':3.6}, g);
    
    
    const bl = make('line', {x1:xAxis(col,w),x2:xAxis(col,-w),y1:yAxis(row,cloudBase),y2:yAxis(row,cloudBase),stroke:'#222','stroke-width':3.6,'stroke-dasharray':'18.5 18.5','stroke-dashoffset':dashOffsets[row]}, g);
    
    

    // annotations
    const nLab = label('N='+sampleCounts[idx], L+10, T+49.5, 28.7, 'start', g);
    
    
    const pLab = label(panelLetters[idx], L+494.5, T+49.5, 28.7, 'middle', g);
    
    

    // tick labels
    if(row===2){
      xTickValues.forEach(function(v){
        const t = label(String(v), xAxis(col,v), 1672, 26, 'middle', svg);
        
        
      });
      const xl = label('Length [km]', L+plotWidth/2-4.5, 1709, 28.8, 'middle', svg);
      
      
    }
    if(col===0){
      yTickValues.forEach(function(v){
        const t = label(v.toFixed(1), 91, yAxis(row,v)+(v===0?12.5:9.5), 26, 'end', svg);
        
        
      });
      const yl = label('Normalized height', 38.5, T+plotHeight/2+1.5, 28.8, 'middle', svg, -90);
      
      
    }
    if(row===0){
      const tt = label(columnTitles[col], L+plotWidth/2+1, 37.5, 28.8, 'middle', svg);
      
      
    }
    if(col===2){
      const rt = label(rowTitles[row], 1797.5, T+plotHeight/2, 28.8, 'middle', svg, 90);
      
      
    }
  }
}

// ---- colour bar ----
const barLeft = 1837, barWidth = 76, barTop = 53.3, barBottom = 1628;
const scaleTop = 51.8, scaleBottom = 1630.4;
const barStep = (scaleBottom-scaleTop)/levelColors.length;
function barAxis(i){ return scaleBottom - i*barStep; }
const bar = make('g', {}, svg);


levelColors.forEach(function(c,i){
  const y0 = Math.max(barTop, barAxis(i+1)), y1 = Math.min(barBottom, barAxis(i));
  const seg = make('rect', {x:barLeft,y:y0,width:barWidth,height:y1-y0+0.4,fill:c}, bar);
  
  
});
colorbarTicks.forEach(function(s,i){
  const y = barAxis(i);
  const tk = make('line', {x1:1915,x2:1929,y1:y,y2:y,stroke:'#262626','stroke-width':3}, bar);
  
  
  const t = label(s, 1938.5, y+10, 26, 'start', bar);
  
  
});
const cbTitle = make('text', {x:2043,y:828,'font-size':28.8,'text-anchor':'middle',transform:'rotate(-90 2043 828)'}, bar);


const tq = make('tspan', {'font-style':'italic'}, cbTitle); tq.textContent = 'q';
const tt2 = make('tspan', {'font-style':'italic','font-size':22,dy:5}, cbTitle); tt2.textContent = 't';
const ta = make('tspan', {dy:-5}, cbTitle); ta.textContent = ' anomaly [g kg';
const tm = make('tspan', {'font-size':22,dy:-11}, cbTitle); tm.textContent = '−1';
const tb = make('tspan', {dy:11}, cbTitle); tb.textContent = ']';
</script>
</body>
</html>
